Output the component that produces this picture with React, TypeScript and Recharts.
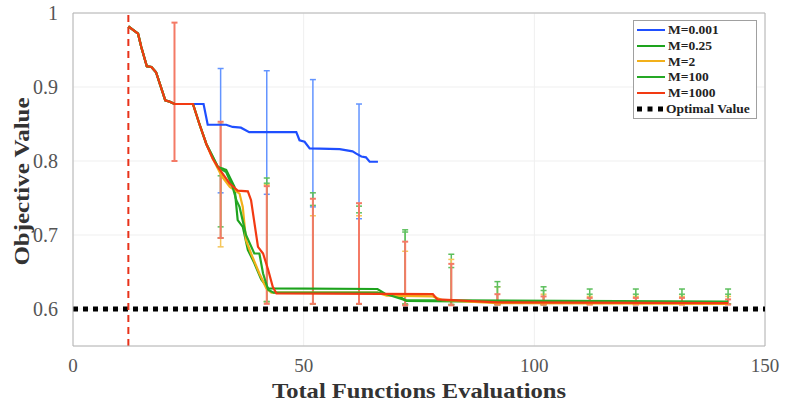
import {
  ComposedChart,
  Line,
  XAxis,
  YAxis,
  CartesianGrid,
  ReferenceLine,
  ErrorBar,
  Legend,
} from 'recharts';

const serif = "'Liberation Serif', 'Times New Roman', serif";

// series labels and colours (legend order)
const seriesNames = ['M=0.001', 'M=0.25', 'M=2', 'M=100', 'M=1000'];
const seriesColors = ['#1f4fff', '#1da31d', '#f2b01a', '#25a825', '#f23a12'];
const barColors = ['#6394ff', '#5cbf5c', '#f5c65a', '#62c262', '#f47a66'];

// mean curves
const blueX = [12, 14.1, 14.8, 16, 17, 18, 20, 21, 22, 28.3, 29.2, 33.2, 34.6, 36.4, 38.2, 48.4, 49.1, 50.2, 51.3, 57.8, 60.6, 61.4, 62.5, 63.5, 64.3, 66.1];
const blueY = [0.982, 0.972, 0.954, 0.928, 0.927, 0.92, 0.882, 0.88, 0.877, 0.877, 0.849, 0.849, 0.846, 0.845, 0.839, 0.839, 0.828, 0.826, 0.817, 0.816, 0.813, 0.81, 0.806, 0.805, 0.799, 0.799];

const green1X = [12, 14.1, 14.8, 16, 17, 18, 20, 21, 22, 26, 27.4, 28.9, 30.3, 31.4, 33.2, 35, 35.7, 36.8, 37.9, 39.3, 40.8, 42.3, 66, 67.8, 70.4, 72.3, 90, 142];
const green1Y = [0.982, 0.972, 0.954, 0.928, 0.927, 0.92, 0.882, 0.88, 0.877, 0.877, 0.85, 0.823, 0.805, 0.792, 0.788, 0.765, 0.72, 0.711, 0.68, 0.662, 0.64, 0.628, 0.627, 0.62, 0.618, 0.611, 0.61, 0.609];

const orangeX = [12, 14.1, 14.8, 16, 17, 18, 20, 21, 22, 26, 27.4, 28.9, 30.3, 32.3, 34, 36.1, 36.8, 37.5, 38.6, 40.4, 41.9, 43, 66, 68, 78, 80, 92, 142];
const orangeY = [0.982, 0.972, 0.954, 0.928, 0.927, 0.92, 0.882, 0.88, 0.877, 0.877, 0.85, 0.823, 0.803, 0.779, 0.765, 0.756, 0.738, 0.693, 0.675, 0.648, 0.628, 0.622, 0.622, 0.618, 0.617, 0.612, 0.608, 0.607];

const green2X = [12, 14.1, 14.8, 16, 17, 18, 20, 21, 22, 26, 27.4, 28.9, 30.3, 31.4, 33.2, 34.6, 35.4, 36.1, 37.5, 39.3, 40.4, 41.2, 42.3, 43.5, 66, 68, 72, 142];
const green2Y = [0.982, 0.972, 0.954, 0.928, 0.927, 0.92, 0.882, 0.88, 0.877, 0.877, 0.85, 0.823, 0.806, 0.792, 0.785, 0.765, 0.747, 0.738, 0.7, 0.675, 0.675, 0.648, 0.626, 0.622, 0.622, 0.62, 0.612, 0.61];

const redX = [12, 14.1, 14.8, 16, 17, 18, 20, 21, 22, 26, 27.4, 28.9, 30.3, 31.4, 33.9, 35.7, 37.9, 38.6, 40.1, 41.2, 42.3, 43.3, 44.1, 78, 79, 92, 142];
const redY = [0.982, 0.972, 0.954, 0.928, 0.927, 0.92, 0.882, 0.88, 0.877, 0.877, 0.85, 0.823, 0.803, 0.792, 0.77, 0.76, 0.759, 0.747, 0.684, 0.675, 0.653, 0.63, 0.621, 0.62, 0.613, 0.609, 0.608];

// error bar ranges (low / high) at sampled evaluations
const blueErrX = [32, 42, 52, 62];
const blueErrLo = [0.757, 0.755, 0.738, 0.722];
const blueErrHi = [0.925, 0.922, 0.91, 0.877];

const errX = [32, 42, 52, 62, 72, 82, 92, 102, 112, 122, 132, 142];
const green1ErrLo = [0.711, 0.61, 0.607, 0.607, 0.607, 0.606, 0.606, 0.606, 0.607, 0.607, 0.607, 0.607];
const green1ErrHi = [0.79, 0.777, 0.757, 0.739, 0.707, 0.674, 0.637, 0.63, 0.627, 0.627, 0.627, 0.627];
const orangeErrLo = [0.684, 0.61, 0.607, 0.607, 0.606, 0.606, 0.606, 0.606, 0.607, 0.607, 0.607, 0.607];
const orangeErrHi = [0.85, 0.768, 0.726, 0.726, 0.678, 0.667, 0.63, 0.62, 0.617, 0.617, 0.617, 0.617];
const green2ErrLo = [0.696, 0.61, 0.607, 0.607, 0.606, 0.606, 0.606, 0.606, 0.607, 0.607, 0.607, 0.607];
const green2ErrHi = [0.78, 0.77, 0.74, 0.73, 0.704, 0.656, 0.63, 0.625, 0.62, 0.62, 0.62, 0.62];

const redErrX = [22, 32, 42, 52, 62, 72, 82, 92, 102, 112, 122, 132, 142];
const redErrLo = [0.8, 0.696, 0.607, 0.607, 0.607, 0.605, 0.605, 0.606, 0.606, 0.606, 0.606, 0.606, 0.606];
const redErrHi = [0.987, 0.853, 0.766, 0.749, 0.743, 0.691, 0.661, 0.62, 0.617, 0.615, 0.615, 0.615, 0.613];

const optimalValue = 0.6;
const startEval = 12;
const xTicks = [0, 50, 100, 150];
const yTicks = [0.6, 0.7, 0.8, 0.9, 1];

const toPoints = (xs: number[], ys: number[]) => xs.map((x, i) => ({ x, y: ys[i] }));
const toErr = (xs: number[], lo: number[], hi: number[]) =>
  xs.map((x, i) => ({ x, y: lo[i], err: [0, hi[i] - lo[i]] }));

const curves = [
  toPoints(blueX, blueY),
  toPoints(green1X, green1Y),
  toPoints(orangeX, orangeY),
  toPoints(green2X, green2Y),
  toPoints(redX, redY),
];
const errSets = [
  toErr(blueErrX, blueErrLo, blueErrHi),
  toErr(errX, green1ErrLo, green1ErrHi),
  toErr(errX, orangeErrLo, orangeErrHi),
  toErr(errX, green2ErrLo, green2ErrHi),
  toErr(redErrX, redErrLo, redErrHi),
];

const titleStyle = { fill: '#333', fontSize: 21, fontWeight: 'bold' as const, fontFamily: serif };

// axis titles are a bit wider in the original, so stretch them
function XTitle(props: any) {
  const vb = props.viewBox;
  return (
    <text
      x={vb.x + vb.width / 2}
      y={vb.y + vb.height - 13}
      textAnchor="middle"
      textLength={294}
      lengthAdjust="spacingAndGlyphs"
      style={titleStyle}
    >
      Total Functions Evaluations
    </text>
  );
}

function YTitle(props: any) {
  const vb = props.viewBox;
  const cx = 22;
  const cy = vb.y + vb.height / 2 + 2;
  return (
    <text
      x={cx}
      y={cy}
      dy={7}
      transform={`rotate(-90, ${cx}, ${cy})`}
      textAnchor="middle"
      textLength={168}
      lengthAdjust="spacingAndGlyphs"
      style={titleStyle}
    >
      Objective Value
    </text>
  );
}

function LegendBox() {
  return (
    <div
      style={{
        border: '1px solid #a0a0a0',
        background: '#fff',
        padding: '1px 3px 2px 3px',
        fontFamily: serif,
        fontWeight: 'bold',
        fontSize: 13.5,
        color: '#222',
        boxSizing: 'border-box',
        height: 99,
      }}
    >
      {seriesNames.map((name, i) => (
        <div key={name} style={{ display: 'flex', alignItems: 'center', height: 15.8, whiteSpace: 'nowrap' }}>
          <svg width={28} height={6} style={{ marginRight: 3 }}>
            <line x1={0} y1={3} x2={28} y2={3} stroke={seriesColors[i]} strokeWidth={2} />
          </svg>
          <span>{name}</span>
        </div>
      ))}
      <div style={{ display: 'flex', alignItems: 'center', height: 15.8, whiteSpace: 'nowrap' }}>
        <svg width={28} height={6} style={{ marginRight: 1 }}>
          <line x1={0} y1={3} x2={28} y2={3} stroke="#000" strokeWidth={5} strokeDasharray="5 5.5" />
        </svg>
        <span>Optimal Value</span>
      </div>
    </div>
  );
}

export default function App() {
  return (
    <div style={{ position: 'absolute', left: 0, top: 0, width: 788, height: 411, background: '#fff' }}>
      <ComposedChart width={788} height={411} margin={{ top: 13, right: 23, left: 0, bottom: 0 }}>
        <CartesianGrid stroke="#efefef" />
        <XAxis
          type="number"
          dataKey="x"
          domain={[0, 150]}
          ticks={xTicks}
          allowDataOverflow
          height={65}
          stroke="#b4b4b4"
          tickLine={false}
          tickMargin={7}
          tick={{ fill: '#555', fontSize: 19, fontFamily: serif }}
          label={<XTitle />}
        />
        <YAxis
          type="number"
          domain={[0.55, 1]}
          ticks={yTicks}
          allowDataOverflow
          width={73}
          stroke="#b4b4b4"
          tickLine={false}
          tickMargin={9}
          tickFormatter={(v: number) => (v === 1 ? '1' : v.toFixed(1))}
          tick={{ fill: '#555', fontSize: 20, fontFamily: serif }}
          label={<YTitle />}
        />
        <ReferenceLine y={1} stroke="#b4b4b4" />
        <ReferenceLine x={150} stroke="#b4b4b4" />
        <ReferenceLine y={optimalValue} stroke="#000" strokeWidth={5} strokeDasharray="5 5" />
        <ReferenceLine x={startEval} stroke="#e8321a" strokeWidth={2} strokeDasharray="7 5" />
        {errSets.map((set, i) => (
          <Line
            key={`err-${i}`}
            data={set}
            dataKey="y"
            stroke="none"
            strokeWidth={0}
            dot={false}
            activeDot={false}
            legendType="none"
            isAnimationActive={false}
          >
            <ErrorBar
              dataKey="err"
              direction="y"
              stroke={barColors[i]}
              strokeWidth={i === 4 ? 2 : 1.5}
              width={3}
            />
          </Line>
        ))}
        {curves.map((pts, i) => (
          <Line
            key={seriesNames[i]}
            name={seriesNames[i]}
            data={pts}
            dataKey="y"
            type="linear"
            stroke={seriesColors[i]}
            strokeWidth={2.2}
            dot={false}
            activeDot={false}
            isAnimationActive={false}
          />
        ))}
        <Legend
          layout="horizontal"
          verticalAlign="middle"
          align="center"
          wrapperStyle={{ left: 633, top: 20, width: 124, height: 99 }}
          content={() => <LegendBox />}
        />
      </ComposedChart>
    </div>
  );
}
